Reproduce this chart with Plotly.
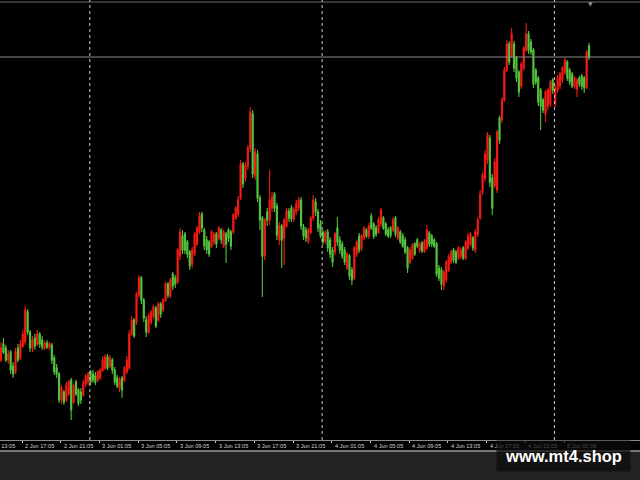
import plotly.graph_objects as go

# ---------------- data (price units) ----------------
opens = [
    80, 96, 92, 80, 88, 74, 68, 92, 82, 94,
    98, 128, 108, 92, 102, 96, 106, 100, 92, 97,
    93, 95, 82, 72, 66, 40, 48, 40, 46, 60,
    38, 58, 50, 48, 45, 56, 58, 68, 66, 64,
    60, 62, 70, 72, 83, 74, 80, 70, 62, 52,
    62, 60, 68, 72, 106, 120, 118, 145, 162, 140,
    120, 108, 118, 124, 132, 120, 136, 130, 140, 156,
    144, 166, 162, 158, 184, 204, 206, 198, 188, 176,
    186, 196, 208, 226, 210, 200, 198, 194, 198, 206,
    202, 210, 194, 206, 210, 208, 208, 222, 226, 242,
    276, 262, 274, 292, 326, 264, 286, 242, 222, 184,
    228, 220, 232, 246, 234, 200, 214, 202, 214, 229,
    232, 221, 228, 232, 240, 213, 210, 199, 208, 222,
    238, 228, 216, 208, 199, 208, 200, 190, 188, 212,
    200, 196, 190, 172, 184, 170, 162, 186, 204, 192,
    202, 210, 204, 224, 216, 212, 208, 216, 222, 216,
    210, 212, 210, 222, 202, 208, 204, 200, 192, 178,
    182, 196, 200, 190, 197, 189, 192, 207, 204, 200,
    196, 172, 170, 154, 160, 170, 178, 190, 188, 182,
    184, 192, 182, 192, 196, 202, 190, 206, 222, 248,
    262, 280, 302, 262, 254, 250, 322, 320, 340, 370,
    396, 384, 396, 382, 368, 354, 372, 390, 406, 398,
    390, 370, 362, 350, 340, 326, 334, 336, 360, 336,
    350, 354, 360, 368, 378, 370, 366, 354, 351, 362,
    364, 362, 353, 394,
]
highs = [
    98, 102, 95, 90, 90, 78, 92, 96, 100, 110,
    134, 131, 110, 104, 106, 110, 108, 104, 99, 100,
    98, 97, 85, 76, 68, 55, 50, 58, 60, 62,
    56, 60, 52, 52, 60, 66, 68, 70, 70, 68,
    70, 72, 84, 86, 86, 85, 82, 73, 65, 63,
    64, 74, 84, 110, 124, 122, 148, 165, 164, 142,
    124, 127, 130, 135, 134, 138, 138, 142, 158, 158,
    162, 168, 165, 192, 212, 210, 208, 200, 190, 193,
    208, 214, 228, 228, 212, 204, 200, 210, 208, 208,
    214, 212, 210, 208, 212, 210, 227, 234, 244, 280,
    278, 278, 295, 333, 330, 292, 290, 245, 224, 222,
    232, 270, 248, 248, 237, 218, 216, 222, 232, 232,
    235, 233, 240, 243, 243, 216, 213, 212, 224, 245,
    242, 231, 220, 210, 210, 211, 203, 193, 208, 223,
    204, 199, 193, 188, 186, 173, 194, 200, 207, 206,
    214, 212, 217, 227, 218, 215, 223, 232, 224, 218,
    213, 214, 223, 224, 214, 210, 207, 203, 194, 193,
    197, 198, 202, 198, 199, 201, 215, 209, 206, 202,
    198, 175, 173, 170, 180, 186, 190, 192, 190, 194,
    193, 194, 200, 207, 208, 204, 211, 223, 250, 268,
    290, 308, 305, 266, 282, 310, 324, 343, 373, 400,
    399, 412, 399, 384, 370, 378, 394, 417, 409, 401,
    392, 372, 364, 352, 342, 350, 352, 360, 362, 355,
    365, 368, 374, 382, 380, 372, 368, 364, 362, 364,
    366, 364, 390, 397,
]
lows = [
    78, 86, 78, 76, 66, 62, 66, 78, 80, 92,
    95, 105, 88, 88, 90, 94, 92, 90, 90, 91,
    90, 76, 65, 62, 37, 36, 35, 38, 44, 20,
    36, 44, 34, 36, 43, 53, 55, 55, 57, 55,
    58, 60, 68, 70, 70, 72, 66, 55, 52, 48,
    42, 58, 66, 70, 104, 102, 115, 142, 136, 118,
    103, 106, 115, 121, 112, 118, 122, 128, 138, 142,
    142, 150, 152, 156, 180, 186, 186, 182, 170, 172,
    184, 194, 206, 208, 190, 186, 183, 192, 195, 192,
    200, 196, 192, 177, 198, 190, 206, 220, 223, 240,
    252, 258, 270, 288, 262, 260, 238, 210, 143, 180,
    214, 215, 228, 228, 200, 195, 172, 175, 212, 218,
    218, 218, 225, 229, 210, 200, 198, 196, 206, 219,
    224, 208, 202, 195, 196, 188, 182, 173, 185, 194,
    186, 181, 175, 170, 160, 155, 160, 183, 187, 189,
    200, 202, 201, 210, 201, 203, 206, 213, 210, 204,
    202, 202, 208, 203, 200, 196, 192, 186, 167, 176,
    180, 184, 192, 187, 187, 187, 190, 193, 193, 192,
    163, 159, 150, 150, 157, 168, 176, 177, 176, 180,
    181, 180, 180, 190, 194, 189, 187, 203, 220, 245,
    258, 276, 253, 225, 252, 247, 296, 317, 338, 368,
    375, 382, 368, 358, 343, 351, 369, 388, 386, 385,
    352, 355, 334, 310, 327, 318, 330, 333, 346, 333,
    347, 351, 357, 365, 359, 355, 352, 351, 343, 353,
    350, 347, 351, 380,
]
closes = [
    92, 88, 80, 86, 70, 66, 88, 80, 96, 106,
    130, 108, 92, 100, 94, 106, 96, 93, 97, 93,
    96, 80, 68, 66, 40, 52, 38, 55, 58, 30,
    54, 46, 37, 40, 57, 64, 66, 58, 60, 58,
    68, 70, 80, 83, 72, 82, 70, 58, 54, 60,
    50, 72, 80, 106, 120, 104, 146, 162, 140, 122,
    108, 124, 128, 133, 114, 136, 126, 140, 156, 145,
    160, 154, 156, 190, 208, 190, 190, 186, 174, 190,
    206, 212, 224, 212, 194, 190, 186, 208, 206, 196,
    212, 200, 208, 196, 202, 194, 225, 232, 240, 276,
    256, 274, 292, 328, 266, 288, 242, 220, 184, 220,
    220, 240, 243, 232, 205, 214, 200, 220, 229, 222,
    221, 230, 236, 240, 214, 204, 202, 210, 222, 240,
    228, 212, 205, 198, 207, 192, 186, 178, 206, 198,
    190, 184, 178, 186, 164, 160, 192, 198, 190, 204,
    212, 204, 214, 212, 204, 206, 220, 230, 212, 206,
    204, 205, 220, 206, 212, 198, 194, 188, 172, 190,
    195, 186, 194, 196, 189, 199, 210, 196, 196, 194,
    166, 162, 156, 168, 178, 183, 188, 180, 178, 192,
    190, 182, 198, 204, 206, 192, 208, 220, 246, 265,
    286, 305, 258, 232, 278, 308, 300, 340, 370, 396,
    378, 406, 372, 362, 348, 376, 392, 406, 390, 388,
    356, 358, 338, 334, 330, 348, 350, 358, 350, 352,
    362, 366, 372, 380, 362, 358, 354, 362, 360, 356,
    354, 352, 388, 383,
]
tick_labels = [
    "2 Jun 13:05", "2 Jun 17:05", "2 Jun 21:05", "3 Jun 01:05",
    "3 Jun 05:05", "3 Jun 09:05", "3 Jun 13:05", "3 Jun 17:05",
    "3 Jun 21:05", "4 Jun 01:05", "4 Jun 05:05", "4 Jun 09:05",
    "4 Jun 13:05", "4 Jun 17:05", "4 Jun 21:05", "5 Jun 01:05",
]
watermark = "www.mt4.shop"

n = len(closes)
assert len(opens) == len(highs) == len(lows) == n
bars = list(range(n))

# ---------------- layout geometry ----------------
W, H = 640, 480
PLOT_H = 440
BAR_PX = 2.42          # pixels per bar
X0_PX = 1.0            # pixel of first bar
xmin = (0 - X0_PX) / BAR_PX
xmax = (W - X0_PX) / BAR_PX
BARS_PER_LABEL = 16    # 4 hours of M15 bars
FIRST_LABEL_BAR = -7.3

label_pos = [FIRST_LABEL_BAR + BARS_PER_LABEL * k for k in range(len(tick_labels))]
# day separators at 00:05 (one hour = 4 bars before each "01:05" label)
separators = [p - 4 for p, t in zip(label_pos, tick_labels) if t.endswith("01:05")]


def xpaper(b):
    return (b - xmin) / (xmax - xmin)


def ypaper(px):
    return (PLOT_H - px) / PLOT_H


UP = "#f21a14"
DOWN = "#52c23c"

fig = go.Figure()
fig.add_trace(go.Candlestick(
    x=bars, open=opens, high=highs, low=lows, close=closes,
    increasing=dict(line=dict(color=UP, width=1.1), fillcolor=UP),
    decreasing=dict(line=dict(color=DOWN, width=1.1), fillcolor=DOWN),
    whiskerwidth=0, showlegend=False, hoverinfo="skip",
))

shapes = []
# bottom dark strip
shapes.append(dict(type="rect", xref="paper", yref="paper", x0=0, x1=1,
                   y0=ypaper(451), y1=ypaper(481), fillcolor="#232323",
                   line=dict(width=0), layer="below"))
shapes.append(dict(type="line", xref="paper", yref="paper", x0=0, x1=1,
                   y0=ypaper(451), y1=ypaper(451),
                   line=dict(color="#9a9a9a", width=1.5)))
shapes.append(dict(type="line", xref="paper", yref="paper", x0=0, x1=1,
                   y0=ypaper(440.5), y1=ypaper(440.5),
                   line=dict(color="#8a8a8a", width=1)))
# top border line
shapes.append(dict(type="line", xref="paper", yref="paper", x0=0, x1=1,
                   y0=ypaper(2), y1=ypaper(2),
                   line=dict(color="#6a6a6a", width=1)))
# day separators
for s in separators:
    shapes.append(dict(type="line", xref="x", yref="paper", x0=s, x1=s,
                       y0=0, y1=1, line=dict(color="#c8c8c8", width=1, dash="dot")))
# bid line at last close
shapes.append(dict(type="line", xref="paper", yref="y", x0=0, x1=1,
                   y0=closes[-1], y1=closes[-1],
                   line=dict(color="#8c8c8c", width=1)))

annotations = []
for p, t in zip(label_pos, tick_labels):
    annotations.append(dict(
        x=xpaper(p), y=ypaper(446), xref="paper", yref="paper",
        text=t, showarrow=False, xanchor="left", yanchor="middle",
        xshift=1, font=dict(family="Liberation Sans", size=5.6, color="#d4d4d4")))
# small marker at top right
annotations.append(dict(
    x=xpaper(n - 1) + 0.003, y=ypaper(3), xref="paper", yref="paper",
    text="▼", showarrow=False, xanchor="center", yanchor="middle",
    font=dict(family="DejaVu Sans", size=6, color="#8a8a8a")))
# watermark
annotations.append(dict(
    x=563.5 / W, y=ypaper(456), xref="paper", yref="paper",
    text="<b>" + watermark + "</b>", showarrow=False,
    xanchor="center", yanchor="middle", width=133, height=30,
    bgcolor="rgba(12,12,12,0.72)", borderpad=0,
    font=dict(family="Liberation Sans", size=16.5, color="#ffffff")))

fig.update_layout(
    width=W, height=H,
    margin=dict(l=0, r=0, t=0, b=H - PLOT_H, pad=0),
    paper_bgcolor="#000000", plot_bgcolor="#000000",
    boxgap=0.35,
    showlegend=False,
    xaxis=dict(range=[xmin, xmax], showgrid=False, zeroline=False,
               rangeslider=dict(visible=False), showticklabels=False,
               tickvals=label_pos, ticks="outside", ticklen=2,
               tickcolor="#c8c8c8", tickwidth=1, showline=False, fixedrange=True),
    yaxis=dict(range=[0, PLOT_H], showgrid=False, zeroline=False,
               showticklabels=False, showline=False, fixedrange=True),
    shapes=shapes, annotations=annotations,
)

fig.write_html(
    "out.html",
    config={"displayModeBar": False},
    post_script="document.body.style.margin='0';document.body.style.padding='0';"
                "document.body.style.overflow='hidden';"
                "document.body.style.background='#000';",
)
